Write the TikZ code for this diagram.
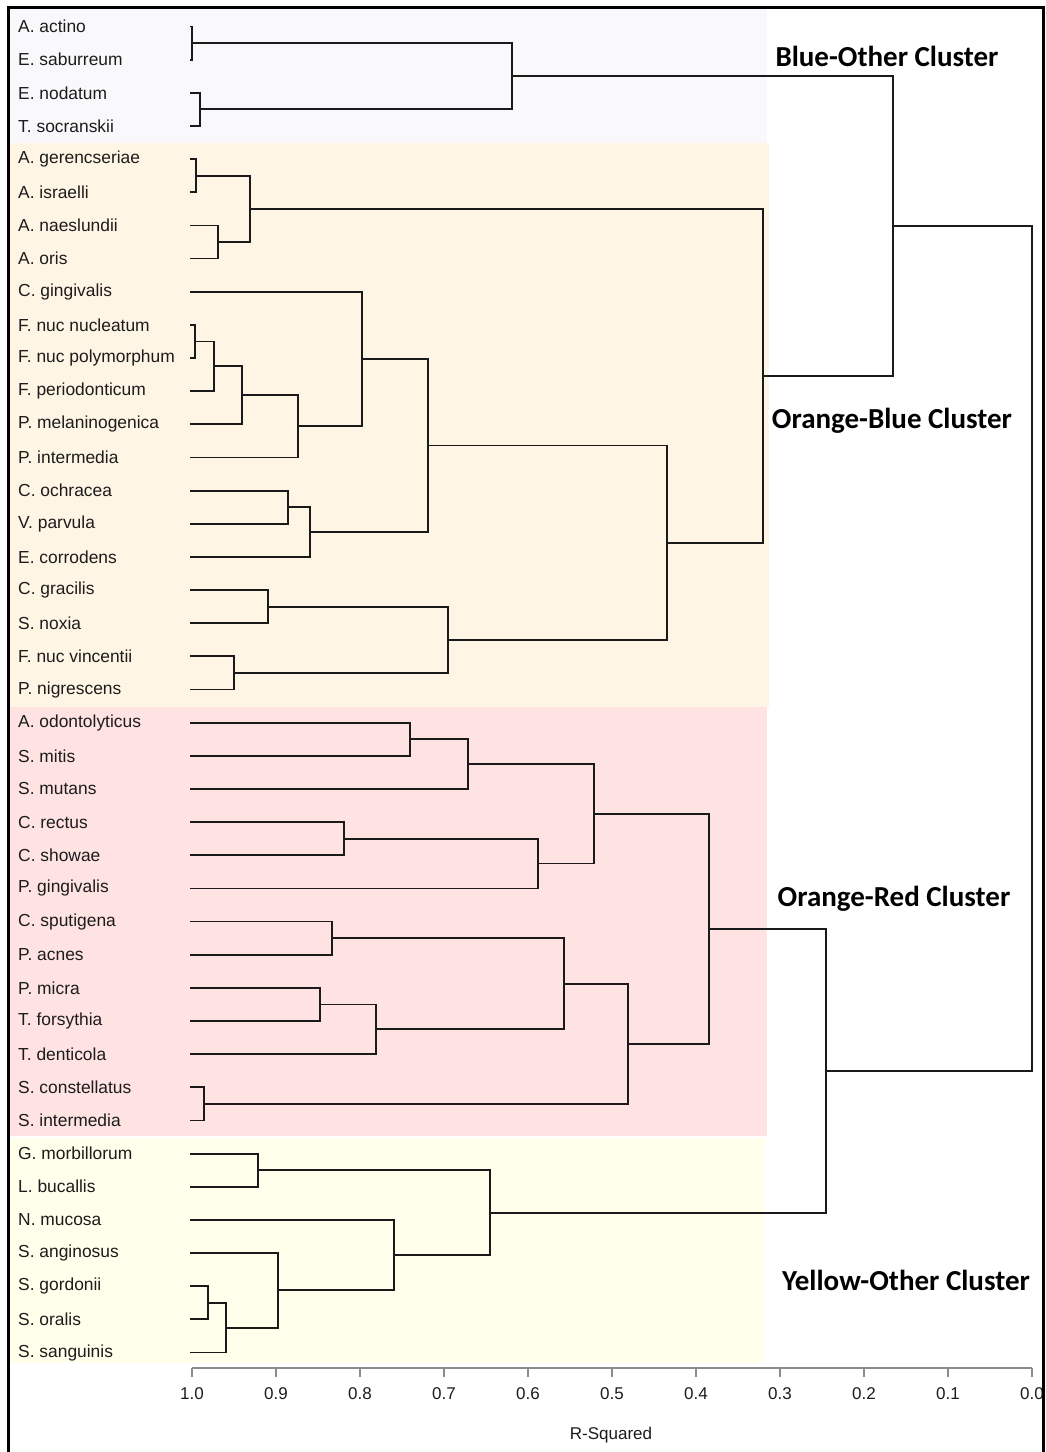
\documentclass[tikz,border=0pt]{standalone}
\usepackage{fontspec}
\setmainfont{Liberation Sans}
\newfontfamily\clusterfont{Carlito}
\usetikzlibrary{calc}
\definecolor{bandblue}{HTML}{F9F9FB}
\definecolor{bandorange}{HTML}{FFF5E4}
\definecolor{bandred}{HTML}{FFE2E2}
\definecolor{bandyellow}{HTML}{FFFFEB}
\definecolor{treeline}{HTML}{1A1A1A}
\definecolor{axisgray}{HTML}{8C8C8C}
\definecolor{leaftext}{HTML}{1C1C1C}
\tikzset{
  tree/.style={draw=treeline, line width=1.8pt, line join=miter},
  leaf/.style={anchor=west, inner sep=0pt, text=leaftext, font=\fontsize{17.4}{20}\selectfont},
  cluster/.style={inner sep=0pt, font=\clusterfont\bfseries\fontsize{29}{33}\selectfont},
  ticklab/.style={inner sep=0pt, text=leaftext, font=\fontsize{17}{19}\selectfont},
  axis/.style={draw=axisgray, line width=1.5pt},
  frame/.style={draw=black, line width=3pt}
}
\newcommand{\mrg}[4]{%
  \path ($(#2)!0.5!(#3)$) coordinate (#1mid) (#4,0) coordinate (#1xx);
  \coordinate (#1) at (#1mid -| #1xx);
  \draw[tree] (#2) -| (#1) |- (#3);
}
\begin{document}
\begin{tikzpicture}[x=1pt,y=-1pt]
\useasboundingbox (0,0) rectangle (1045,1452);
\fill[white] (0,0) rectangle (1045,1452);
% bands
\fill[bandblue] (8,7) rectangle (767,143);
\fill[bandorange] (8,143) rectangle (769,707);
\fill[bandred] (8,707) rectangle (767,1136);
\fill[bandyellow] (8,1138) rectangle (765,1363);
% leaves
\foreach \t [count=\i from 0] in {A. actino, E. saburreum, E. nodatum, T. socranskii,
  A. gerencseriae, A. israelli, A. naeslundii, A. oris, C. gingivalis,
  F. nuc nucleatum, F. nuc polymorphum, F. periodonticum, P. melaninogenica,
  P. intermedia, C. ochracea, V. parvula, E. corrodens, C. gracilis, S. noxia,
  F. nuc vincentii, P. nigrescens, A. odontolyticus, S. mitis, S. mutans,
  C. rectus, C. showae, P. gingivalis, C. sputigena, P. acnes, P. micra,
  T. forsythia, T. denticola, S. constellatus, S. intermedia, G. morbillorum,
  L. bucallis, N. mucosa, S. anginosus, S. gordonii, S. oralis, S. sanguinis} {
  \node[leaf] (n\i) at (18, {26.5+33.15*\i}) {\t};
  \coordinate (p\i) at (190, {26.5+33.15*\i});
}
% Blue-Other
\mrg{ma}{p0}{p1}{192}
\mrg{mb}{p2}{p3}{200}
\mrg{bo}{ma}{mb}{512}
% Orange-Blue
\mrg{mc}{p4}{p5}{196}
\mrg{md}{p6}{p7}{218}
\mrg{act}{mc}{md}{250}
\mrg{me}{p9}{p10}{195}
\mrg{mf}{me}{p11}{214}
\mrg{mg}{mf}{p12}{242}
\mrg{mh}{mg}{p13}{298}
\mrg{mi}{p8}{mh}{362}
\mrg{mj}{p14}{p15}{288}
\mrg{mk}{mj}{p16}{310}
\mrg{ml}{mi}{mk}{428}
\mrg{mm}{p17}{p18}{268}
\mrg{mn}{p19}{p20}{234}
\mrg{mo}{mm}{mn}{448}
\mrg{mp}{ml}{mo}{667}
\mrg{ob}{act}{mp}{763}
\mrg{top}{bo}{ob}{893}
% Orange-Red
\mrg{mq}{p21}{p22}{410}
\mrg{mr}{mq}{p23}{468}
\mrg{ms}{p24}{p25}{344}
\mrg{mt}{ms}{p26}{538}
\mrg{mu}{mr}{mt}{594}
\mrg{mv}{p27}{p28}{332}
\mrg{mw}{p29}{p30}{320}
\mrg{mx}{mw}{p31}{376}
\mrg{my}{mv}{mx}{564}
\mrg{mz}{p32}{p33}{204}
\mrg{na}{my}{mz}{628}
\mrg{orr}{mu}{na}{709}
% Yellow-Other
\mrg{nb}{p34}{p35}{258}
\mrg{nc}{p38}{p39}{208}
\mrg{nd}{nc}{p40}{226}
\mrg{ne}{p37}{nd}{278}
\mrg{nf}{p36}{ne}{394}
\mrg{yo}{nb}{nf}{490}
\mrg{bot}{orr}{yo}{826}
\mrg{root}{top}{bot}{1032}
% cluster labels
\node[cluster] (cl1) at (887,56) {Blue-Other Cluster};
\node[cluster] (cl2) at (892,421) {Orange-Blue Cluster};
\node[cluster] (cl3) at (894,899) {Orange-Red Cluster};
\node[cluster] (cl4) at (906,1280) {Yellow-Other Cluster};
% axis
\coordinate (ax0) at (192,1368);
\coordinate (ax1) at (1032,1368);
\draw[axis] (ax0) -- (ax1);
\foreach \lab [count=\k from 0] in {1.0,0.9,0.8,0.7,0.6,0.5,0.4,0.3,0.2,0.1,0.0} {
  \draw[axis] ({192+84*\k},1368) -- ({192+84*\k},1377);
  \node[ticklab] (t\k) at ({192+84*\k},1394) {\lab};
}
\node[ticklab] (xl) at (611,1435) {R-Squared};
% frame
\draw[frame] (8,1452) -- (8,7) -- (1043,7) -- (1043,1452);
\end{tikzpicture}
\end{document}
